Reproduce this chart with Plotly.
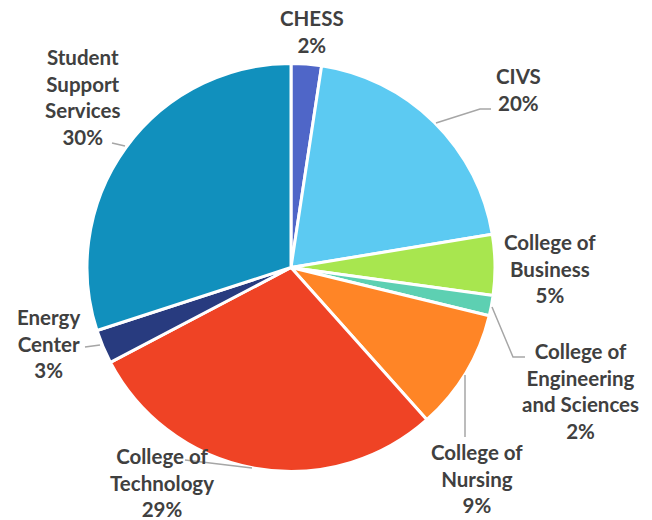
import plotly.graph_objects as go

W, H = 652, 520

departments = [
    "CHESS",
    "CIVS",
    "College of Business",
    "College of Engineering and Sciences",
    "College of Nursing",
    "College of Technology",
    "Energy Center",
    "Student Support Services",
]
shares = [2.4, 20.0, 4.8, 1.6, 9.6, 28.9, 2.7, 30.0]
label_lines = [
    "CHESS",
    "CIVS",
    "College of<br>Business",
    "College of<br>Engineering<br>and Sciences",
    "College of<br>Nursing",
    "College of<br>Technology",
    "Energy<br>Center",
    "Student<br>Support<br>Services",
]
percent_text = ["2%", "20%", "5%", "2%", "9%", "29%", "3%", "30%"]
colors = [
    "#4F66C8",
    "#5CCAF2",
    "#A8E64F",
    "#5DD0B2",
    "#FF8526",
    "#EF4325",
    "#283B7F",
    "#1190BD",
]

# label centres and leader lines in pixels (from top-left)
label_pos = [
    (312, 31), (518, 89), (550, 268), (580, 391),
    (477, 478), (162, 482), (48, 343), (83, 97),
]
leaders = [
    [(436, 123), (480, 109), (491, 109)],
    [(492, 307), (513, 357), (525, 357)],
    [(465, 375), (465, 437)],
    [(252, 468), (185, 460)],
    [(100, 345), (85, 347)],
    [(125, 146), (112, 143)],
]


def px_x(x):
    return x / W


def px_y(y):
    return 1 - y / H


cx, cy, r = 291, 267.5, 204

fig = go.Figure(
    go.Pie(
        labels=departments,
        values=shares,
        sort=False,
        direction="clockwise",
        rotation=0,
        textinfo="none",
        hoverinfo="label+percent",
        marker=dict(colors=colors, line=dict(color="white", width=3)),
        domain=dict(
            x=[px_x(cx - r), px_x(cx + r)],
            y=[px_y(cy + r), px_y(cy - r)],
        ),
    )
)

annotations = []
for text, pct, (lx, ly) in zip(label_lines, percent_text, label_pos):
    annotations.append(
        dict(
            x=px_x(lx),
            y=px_y(ly),
            xref="paper",
            yref="paper",
            xanchor="center",
            yanchor="middle",
            align="center",
            showarrow=False,
            text=f"<b>{text}<br>{pct}</b>",
            font=dict(family="Lato", size=20.5, color="#404040"),
        )
    )

shapes = []
for pts in leaders:
    path = "M " + " L ".join(f"{px_x(x)},{px_y(y)}" for x, y in pts)
    shapes.append(
        dict(
            type="path",
            xref="paper",
            yref="paper",
            path=path,
            line=dict(color="#A6A6A6", width=1.5),
        )
    )

fig.update_layout(
    width=W,
    height=H,
    margin=dict(l=0, r=0, t=0, b=0),
    showlegend=False,
    paper_bgcolor="white",
    plot_bgcolor="rgba(0,0,0,0)",
    annotations=annotations,
    shapes=shapes,
)

# drop the default body margin so the figure sits at the page corner
fig.write_html(
    "out.html",
    config={"displayModeBar": False},
    post_script="document.body.style.margin='0';",
)
